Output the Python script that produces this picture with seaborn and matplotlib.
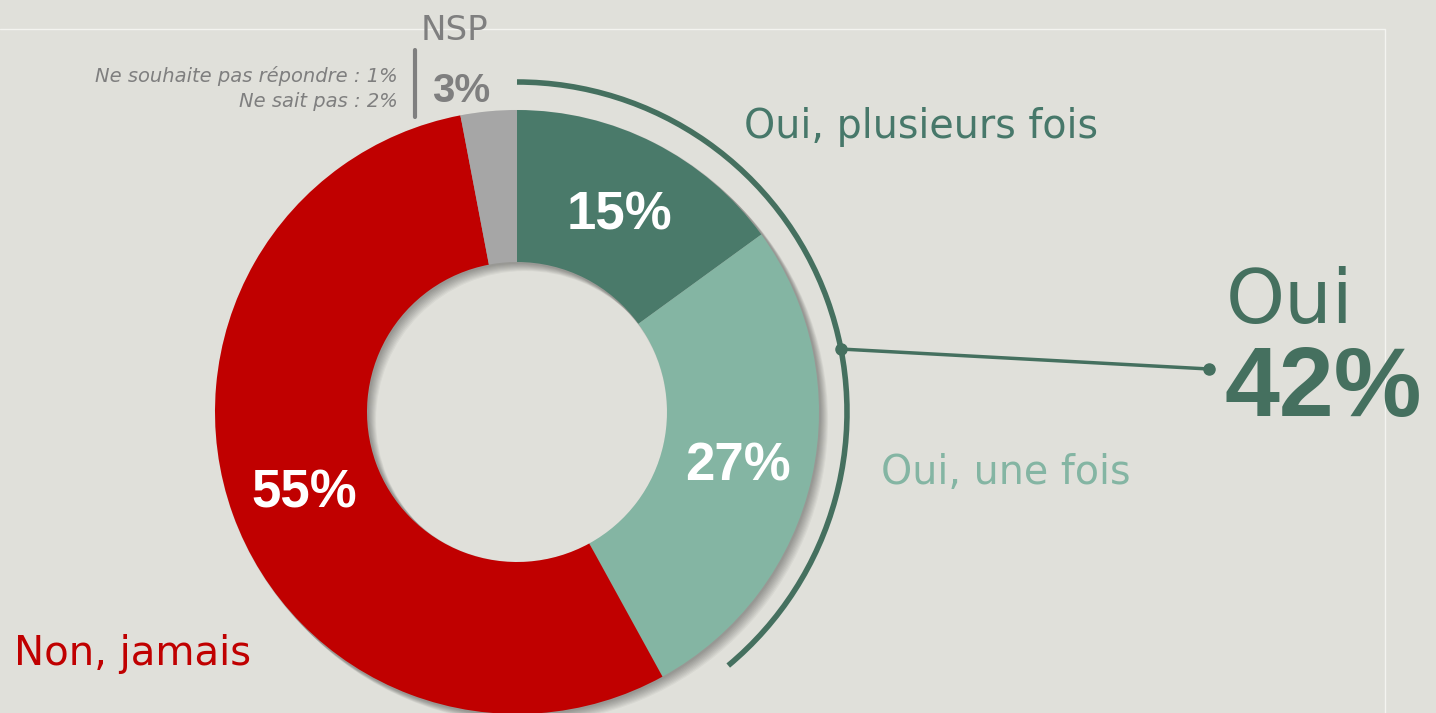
import numpy as np
import pandas as pd
import seaborn as sns
import matplotlib.pyplot as plt
from matplotlib.patches import Wedge, Arc

# data
categories = ["Oui, plusieurs fois", "Oui, une fois", "Non, jamais", "NSP"]
values = [15, 27, 55, 3]
nsp_detail_labels = ["Ne souhaite pas répondre", "Ne sait pas"]
nsp_detail_values = [1, 2]
oui_total = values[0] + values[1]

colors = ["#4A7A6A", "#84B5A3", "#C00000", "#A6A6A6"]
label_colors = ["#47786A", "#84B5A3", "#C00000", "#7F7F7F"]
bg = "#E0E0DA"
green_dark = "#45705F"
gray_txt = "#7F7F7F"

sns.set_style("white")
plt.rcParams["font.family"] = ["DejaVu Sans"]
bold_font = ["Liberation Sans", "DejaVu Sans"]

W, H = 1436, 713
fig = plt.figure(figsize=(W / 100, H / 100), dpi=100, facecolor=bg)
ax = fig.add_axes([0, 0, 1, 1])
ax.set_facecolor(bg)


def Y(y):
    # image rows (top down) -> axis coords (bottom up)
    return H - y


cx, cy = 517, Y(412)
r_out, r_in = 302, 150

# white frame lines
ax.plot([0, 1385], [Y(29), Y(29)], color="#F4F4F0", lw=1, zorder=0)
ax.plot([1385, 1385], [Y(29), 0], color="#F4F4F0", lw=1, zorder=0)

# soft drop shadow behind the ring
for k in range(1, 10):
    ax.add_patch(Wedge((cx + k * 0.9, cy - k * 0.9), r_out + 1, 0, 360,
                       width=r_out - r_in + 2, facecolor="black",
                       alpha=0.04, lw=0, zorder=1))

wedges, _ = ax.pie(values, colors=colors, startangle=90, counterclock=False,
                   radius=r_out, center=(cx, cy),
                   wedgeprops=dict(width=r_out - r_in, linewidth=0))
for w in wedges:
    w.set_zorder(2)

# percentage labels inside the ring (not for NSP)
r_mid = (r_out + r_in) / 2
lab_size = 38
cap_half = lab_size * 100 / 72 * 0.72 / 2
for w, v in zip(wedges[:3], values[:3]):
    ang = np.deg2rad((w.theta1 + w.theta2) / 2)
    ax.text(cx + r_mid * np.cos(ang), cy + r_mid * np.sin(ang) - cap_half, f"{v}%",
            ha="center", va="baseline", color="white", fontsize=lab_size,
            fontweight="bold", family=bold_font, zorder=5)

# bracket arc around the "Oui" part
r_arc = 330
arc_start = 90 - 360 * oui_total / 100 + 11
ax.add_patch(Arc((cx, cy), 2 * r_arc, 2 * r_arc, theta1=arc_start, theta2=90,
                 color=green_dark, lw=4, zorder=3))
dot_ang = np.deg2rad(11)
x0, y0 = cx + r_arc * np.cos(dot_ang), cy + r_arc * np.sin(dot_ang)
x1, y1 = 1209, Y(369)
ax.plot([x0, x1], [y0, y1], color=green_dark, lw=2.5, zorder=3)
ax.plot([x0, x1], [y0, y1], "o", color=green_dark, ms=8, zorder=4)

ax.text(1226, Y(323), "Oui", color=green_dark, fontsize=54,
        ha="left", va="baseline")
ax.text(1225, Y(416), f"{oui_total}%", color=green_dark, fontsize=71,
        fontweight="bold", ha="left", va="baseline", family=bold_font)

# category labels
ax.text(744, Y(138), categories[0], color=label_colors[0], fontsize=28.5,
        ha="left", va="baseline")
ax.text(881, Y(484), categories[1], color=label_colors[1], fontsize=28.5,
        ha="left", va="baseline")
ax.text(14, Y(665), categories[2], color=label_colors[2], fontsize=29,
        ha="left", va="baseline")

# NSP block
ax.text(454, Y(40), categories[3], color=gray_txt, fontsize=24.5,
        ha="center", va="baseline")
ax.text(432, Y(102), f"{values[3]}%", color=gray_txt, fontsize=29,
        fontweight="bold", ha="left", va="baseline", family=bold_font)
ax.plot([415, 415], [Y(50), Y(117)], color=gray_txt, lw=3)
for i, (lab, v) in enumerate(zip(nsp_detail_labels, nsp_detail_values)):
    ax.text(398, Y(82 + 25 * i), f"{lab} : {v}%", color=gray_txt, fontsize=14,
            style="italic", ha="right", va="baseline")

ax.set_xlim(0, W)
ax.set_ylim(0, H)
ax.set_aspect("equal")
ax.set_axis_off()

fig.savefig("out.png", dpi=100, facecolor=bg)
